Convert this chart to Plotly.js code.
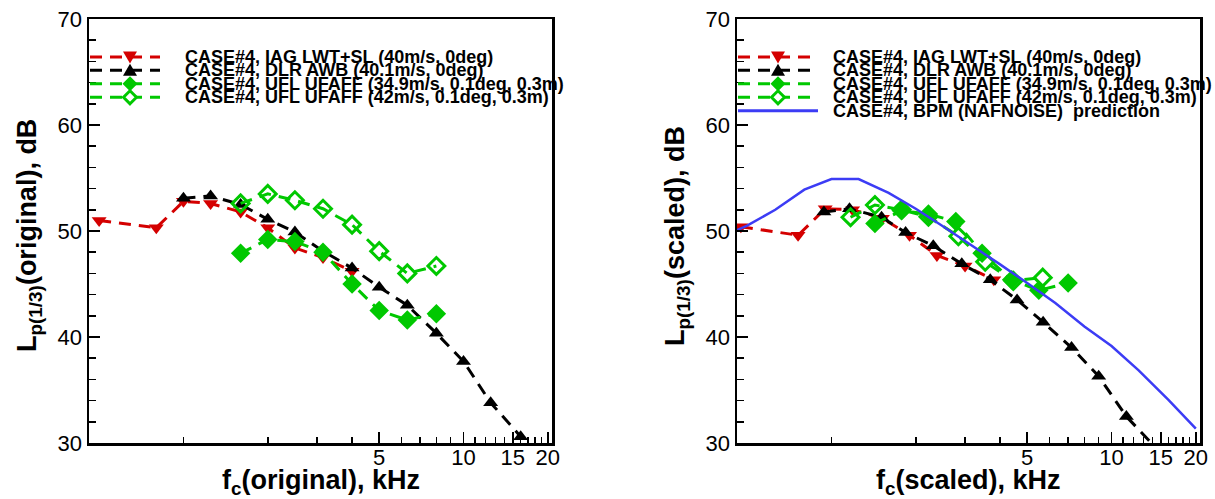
<!DOCTYPE html>
<html>
<head>
<meta charset="utf-8">
<script src="https://cdn.plot.ly/plotly-3.0.1.min.js"></script>
<style>html,body{margin:0;padding:0;background:#fff;}#chart{width:1215px;height:499px;}</style>
</head>
<body>
<div id="chart"></div>
<script>
// ---------- data: left panel (original) ----------
const fOrigIAG = [0.5, 0.8, 1.0, 1.25, 1.6, 2.0, 2.5, 3.15, 4.0];
const lpOrigIAG = [51.0, 50.3, 52.8, 52.6, 51.8, 50.3, 48.4, 47.5, 46.2];

const fOrigDLR = [1.0, 1.25, 1.6, 2.0, 2.5, 3.15, 4.0, 5.0, 6.3, 8.0, 10, 12.5, 16];
const lpOrigDLR = [53.1, 53.3, 52.5, 51.1, 49.9, 48.1, 46.5, 44.7, 43.0, 40.35, 37.7, 33.8, 30.6];

const fOrigUFL349 = [1.6, 2.0, 2.5, 3.15, 4.0, 5.0, 6.3, 8.0];
const lpOrigUFL349 = [47.9, 49.2, 49.0, 48.0, 45.0, 42.5, 41.6, 42.2];

const fOrigUFL42 = [1.6, 2.0, 2.5, 3.15, 4.0, 5.0, 6.3, 8.0];
const lpOrigUFL42 = [52.6, 53.5, 52.9, 52.1, 50.6, 48.1, 46.0, 46.7];

// ---------- data: right panel (scaled) ----------
const fScIAG = [0.475, 0.76, 0.95, 1.19, 1.52, 1.9, 2.38, 3.0, 3.8];
const lpScIAG = [50.4, 49.6, 52.1, 52.0, 51.2, 49.6, 47.7, 46.7, 45.4];

const fScDLR = [0.94, 1.16, 1.51, 1.84, 2.31, 2.92, 3.69, 4.6, 5.7, 7.2, 9.0, 11.3, 14.7];
const lpScDLR = [51.8, 52.1, 51.3, 49.85, 48.6, 46.9, 45.4, 43.5, 41.4, 39.0, 36.3, 32.5, 29.3];

const fScUFL349 = [1.43, 1.78, 2.22, 2.78, 3.45, 4.4, 5.5, 7.0];
const lpScUFL349 = [50.7, 51.9, 51.6, 50.9, 47.9, 45.4, 44.4, 45.1];

const fScUFL42 = [1.17, 1.43, 1.78, 2.22, 2.84, 3.54, 4.46, 5.68];
const lpScUFL42 = [51.3, 52.45, 52.0, 51.35, 49.5, 47.1, 45.3, 45.6];

const fBPM = [0.4, 0.5, 0.63, 0.8, 1.0, 1.25, 1.6, 2.0, 2.5, 3.15, 4.0, 5.0, 6.3, 8.0, 10, 12.5, 16, 20];
const lpBPM = [49.4, 50.5, 52.0, 53.9, 54.9, 54.9, 53.6, 52.1, 50.45, 48.7, 46.85, 45.1, 43.2, 41.0, 39.15, 36.85, 34.05, 31.35];

// ---------- labels ----------
const legendLeft = [
  'CASE#4, IAG LWT+SL (40m/s, 0deg)',
  'CASE#4, DLR AWB (40.1m/s, 0deg)',
  'CASE#4, UFL UFAFF (34.9m/s, 0.1deg, 0.3m)',
  'CASE#4, UFL UFAFF (42m/s, 0.1deg, 0.3m)'
];
const legendRightExtra = 'CASE#4, BPM (NAFNOISE)  prediction';
const xTickVals = [5, 10, 15, 20];
const xTickText = ['5', '10', '15', '20'];
const xMinorTicks = [1, 2, 3, 4, 6, 7, 8, 9, 11, 12, 13, 14, 16, 17, 18, 19];
const yTickVals = [30, 40, 50, 60, 70];
const xTitleLeft = 'f<sub>c</sub>(original), kHz';
const xTitleRight = 'f<sub>c</sub>(scaled), kHz';
const yTitleLeft = 'L<sub>p(1/3)</sub>(original), dB';
const yTitleRight = 'L<sub>p(1/3)</sub>(scaled), dB';

// ---------- styling ----------
const W = 1215, H = 499;
const RED = '#d40000', BLACK = '#000000', GREEN = '#00c800', BLUE = '#3c3cf5';
const FONT = 'Liberation Sans, Arial, Helvetica, sans-serif';
const DASH = '12px,8px';
const px = v => v / W;
const py = v => 1 - v / H;

function dashed(x, y, color, sym, xa, ya, open) {
  let size = 13;
  if (sym === 'diamond') size = 15;
  if (sym === 'diamond-open') size = 13;
  return {
    x: x, y: y, xaxis: xa, yaxis: ya, type: 'scatter', mode: 'lines+markers',
    line: {color: color, width: 3, dash: DASH},
    marker: open
      ? {symbol: sym, size: size, color: color, line: {width: 3, color: color}}
      : {symbol: sym, size: size, color: color, line: {width: 0}},
    showlegend: false, hoverinfo: 'skip'
  };
}

const traces = [
  dashed(fOrigIAG, lpOrigIAG, RED, 'triangle-down', 'x', 'y'),
  dashed(fOrigDLR, lpOrigDLR, BLACK, 'triangle-up', 'x', 'y'),
  dashed(fOrigUFL349, lpOrigUFL349, GREEN, 'diamond', 'x', 'y'),
  dashed(fOrigUFL42, lpOrigUFL42, GREEN, 'diamond-open', 'x', 'y', true),
  dashed(fScIAG, lpScIAG, RED, 'triangle-down', 'x2', 'y2'),
  dashed(fScDLR, lpScDLR, BLACK, 'triangle-up', 'x2', 'y2'),
  dashed(fScUFL349, lpScUFL349, GREEN, 'diamond', 'x2', 'y2'),
  dashed(fScUFL42, lpScUFL42, GREEN, 'diamond-open', 'x2', 'y2', true),
  {x: fBPM, y: lpBPM, xaxis: 'x2', yaxis: 'y2', type: 'scatter', mode: 'lines',
   line: {color: BLUE, width: 2.5}, showlegend: false, hoverinfo: 'skip'}
];

function xAxis(d0, d1, anchor) {
  return {
    domain: [px(d0), px(d1)], anchor: anchor, type: 'log',
    range: [Math.log10(0.46), Math.log10(20.7)],
    tickmode: 'array', tickvals: xTickVals, ticktext: xTickText,
    ticks: 'inside', ticklen: 11, tickwidth: 1.5, tickcolor: '#000',
    ticklabelstandoff: -7,
    minor: {tickmode: 'array', tickvals: xMinorTicks, ticks: 'inside', ticklen: 6, tickwidth: 1.5, tickcolor: '#000', showgrid: false},
    showline: true, linewidth: 2.5, linecolor: '#000', mirror: true,
    showgrid: false, zeroline: false,
    tickfont: {family: FONT, size: 22, color: '#000'}
  };
}
function yAxis(anchor) {
  return {
    domain: [py(443), py(19)], anchor: anchor, range: [30, 70],
    tickmode: 'array', tickvals: yTickVals,
    ticks: 'inside', ticklen: 11, tickwidth: 1.5, tickcolor: '#000',
    minor: {dtick: 2, ticks: 'inside', ticklen: 7, tickwidth: 1.5, tickcolor: '#000', showgrid: false},
    showline: true, linewidth: 2.5, linecolor: '#000', mirror: true,
    showgrid: false, zeroline: false,
    tickfont: {family: FONT, size: 22, color: '#000'}
  };
}

const annotations = [];
const shapes = [];
const rowsY = [57, 70.3, 83.8, 97.3, 110.8];
const colors = [RED, BLACK, GREEN, GREEN];
const paths = [
  'M -7 5.5 L 7 5.5 L 0 -6.5 Z',
  'M -7 -5.5 L 7 -5.5 L 0 6.5 Z',
  'M 0 -7.5 L 7.5 0 L 0 7.5 L -7.5 0 Z',
  'M 0 -6.5 L 6.5 0 L 0 6.5 L -6.5 0 Z'
];

function legendBlock(lineX0, lineX1, markX, textX, withBPM) {
  legendLeft.forEach((t, i) => {
    const y = rowsY[i];
    shapes.push({type: 'line', xref: 'paper', yref: 'paper', x0: px(lineX0), x1: px(lineX1), y0: py(y), y1: py(y),
      line: {color: colors[i], width: 3, dash: DASH}});
    const open = i === 3;
    shapes.push({type: 'path', xref: 'paper', yref: 'paper', xsizemode: 'pixel', ysizemode: 'pixel',
      xanchor: px(markX), yanchor: py(y), path: paths[i],
      fillcolor: open ? '#ffffff' : colors[i], line: {color: colors[i], width: open ? 3 : 0}});
    annotations.push({xref: 'paper', yref: 'paper', x: px(textX), y: py(y), xanchor: 'left', yanchor: 'middle',
      showarrow: false, text: t, font: {family: FONT, size: 18, weight: 'bold', color: '#000'}});
  });
  if (withBPM) {
    const y = rowsY[4];
    shapes.push({type: 'line', xref: 'paper', yref: 'paper', x0: px(lineX0), x1: px(818), y0: py(y), y1: py(y),
      line: {color: BLUE, width: 3}});
    annotations.push({xref: 'paper', yref: 'paper', x: px(textX), y: py(y), xanchor: 'left', yanchor: 'middle',
      showarrow: false, text: legendRightExtra, font: {family: FONT, size: 18, weight: 'bold', color: '#000'}});
  }
}
legendBlock(90, 160, 130, 183, false);
legendBlock(738, 810, 778, 831, true);

function titles(cx, ycx, xt, yt) {
  annotations.push({xref: 'paper', yref: 'paper', x: px(cx), y: py(482), xanchor: 'center', yanchor: 'middle',
    showarrow: false, text: xt, font: {family: FONT, size: 27, weight: 'bold', color: '#000'}});
  annotations.push({xref: 'paper', yref: 'paper', x: px(ycx), y: py(236), xanchor: 'center', yanchor: 'middle',
    showarrow: false, textangle: -90, text: yt, font: {family: FONT, size: 27, weight: 'bold', color: '#000'}});
}
titles(320.5, 29, xTitleLeft, yTitleLeft);
titles(968.5, 677, xTitleRight, yTitleRight);

const layout = {
  width: W, height: H,
  margin: {l: 0, r: 0, t: 0, b: 0},
  paper_bgcolor: '#ffffff', plot_bgcolor: '#ffffff',
  showlegend: false,
  xaxis: xAxis(89, 552, 'y'),
  yaxis: yAxis('x'),
  xaxis2: xAxis(737, 1200, 'y2'),
  yaxis2: yAxis('x2'),
  annotations: annotations,
  shapes: shapes
};

Plotly.newPlot('chart', traces, layout, {staticPlot: true, displayModeBar: false});
</script>
</body>
</html>
